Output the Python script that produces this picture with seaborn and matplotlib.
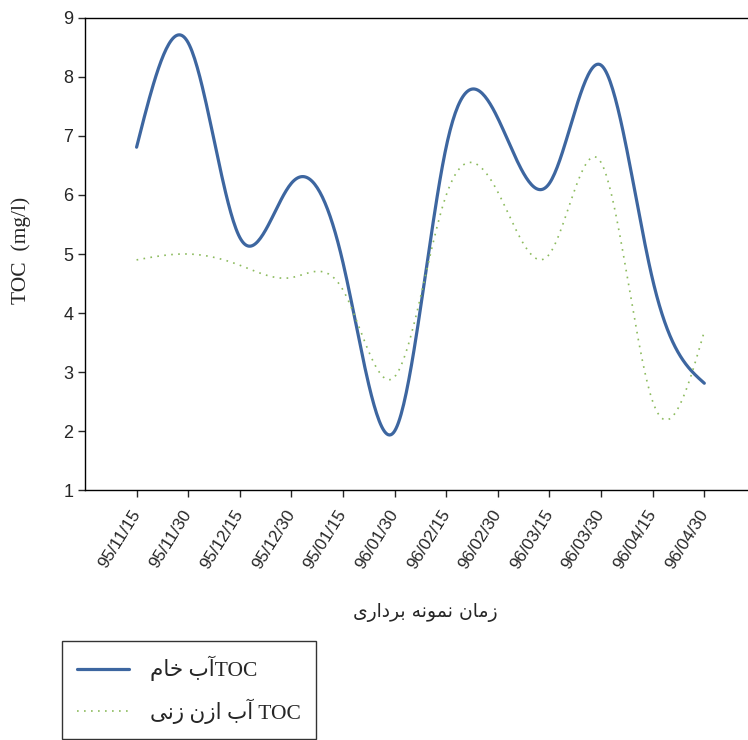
import numpy as np
import pandas as pd
import matplotlib
matplotlib.use("Agg")
import matplotlib.pyplot as plt
import seaborn as sns

# sampling dates (category axis)
dates = ["95/11/15", "95/11/30", "95/12/15", "95/12/30", "95/01/15", "96/01/30",
         "96/02/15", "96/02/30", "96/03/15", "96/03/30", "96/04/15", "96/04/30"]

# TOC (mg/l)
toc_raw = [6.81, 8.58, 5.28, 6.20, 4.85, 2.00, 6.82, 7.30, 6.20, 8.20, 4.56, 2.81]
toc_ozone = [4.90, 5.00, 4.81, 4.60, 4.39, 2.92, 6.00, 6.05, 5.00, 6.55, 2.50, 3.69]

# legend / axis labels (Persian, written in visual order with presentation forms)
lbl_raw = "\uFEE1\uFE8E\uFEA7 \uFE8F\uFE81TOC"
lbl_ozone = "\uFBFD\uFEE7\uFEAF \uFEE5\uFEAF\uFE8D \uFE8F\uFE81 TOC"
xlabel = ("\uFBFC\uFEAD\uFE8D\uFEA9\uFEAE\uFE91 "
          "\uFEEA\uFEE7\uFEEE\uFEE4\uFEE7 "
          "\uFEE5\uFE8E\uFEE3\uFEAF")
ylabel = "TOC  (mg/l)"


def smooth(y, n=40):
    # natural cubic spline through the points (uniform spacing), for drawing only
    y = np.asarray(y, float)
    k = len(y)
    A = np.zeros((k, k))
    r = np.zeros(k)
    A[0, 0] = A[-1, -1] = 1
    for i in range(1, k - 1):
        A[i, i - 1:i + 2] = [1, 4, 1]
        r[i] = 6 * (y[i + 1] - 2 * y[i] + y[i - 1])
    M = np.linalg.solve(A, r)
    xs, ys = [], []
    for i in range(k - 1):
        t = np.linspace(0, 1, n, endpoint=(i == k - 2))
        s = ((1 - t) * y[i] + t * y[i + 1]
             + ((1 - t) ** 3 - (1 - t)) * M[i] / 6
             + (t ** 3 - t) * M[i + 1] / 6)
        xs.append(i + t)
        ys.append(s)
    return np.concatenate(xs), np.concatenate(ys)


sns.set_style("white")
plt.rcParams['font.family'] = ['Liberation Sans', 'DejaVu Sans']

fig = plt.figure(figsize=(7.48, 7.40), dpi=100)
ax = fig.add_axes([0.1136, 0.3378, 0.897, 0.6379])

x1, y1 = smooth(toc_raw)
x2, y2 = smooth(toc_ozone)
sns.lineplot(x=x1, y=y1, color="#3d66a0", lw=2.3, ax=ax, label=lbl_raw, sort=False)
sns.lineplot(x=x2, y=y2, color="#8cbb5e", lw=1.2, linestyle=(0, (1, 3.2)),
             ax=ax, label=lbl_ozone, sort=False)

ax.set_xlim(-1, 12)
ax.set_ylim(1, 9)
ax.set_xticks(range(len(dates)))
ax.set_xticklabels(dates, rotation=58, ha="right", va="center",
                   rotation_mode="anchor", fontsize=12.3)
ax.set_yticks(range(1, 10))
ax.tick_params(axis="y", labelsize=13, length=5, width=1, direction="out", left=True)
ax.tick_params(axis="x", length=5, width=1, direction="out", bottom=True, pad=10)
for side in ["left", "bottom", "top"]:
    ax.spines[side].set_color("black")
    ax.spines[side].set_linewidth(1)
ax.spines["right"].set_visible(False)

ax.set_xlabel("")
ax.set_ylabel("")
fig.text(0.568, 0.172, xlabel, ha="center", va="center", fontsize=13.5,
         family=["DejaVu Sans"])
fig.text(0.028, 0.662, ylabel, rotation=90, ha="center", va="center", fontsize=15.5,
         family=["Liberation Serif"])

ax.get_legend().remove()
leg = fig.legend(loc="upper left", bbox_to_anchor=(0.083, 0.134), borderaxespad=0,
                 frameon=True, fancybox=False, edgecolor="black", handlelength=2.4,
                 borderpad=0.7, labelspacing=0.8, handletextpad=1.0,
                 prop={"family": ["Liberation Serif", "DejaVu Sans"], "size": 15.5})
leg.get_frame().set_linewidth(1)

fig.savefig("out.png", dpi=100)
